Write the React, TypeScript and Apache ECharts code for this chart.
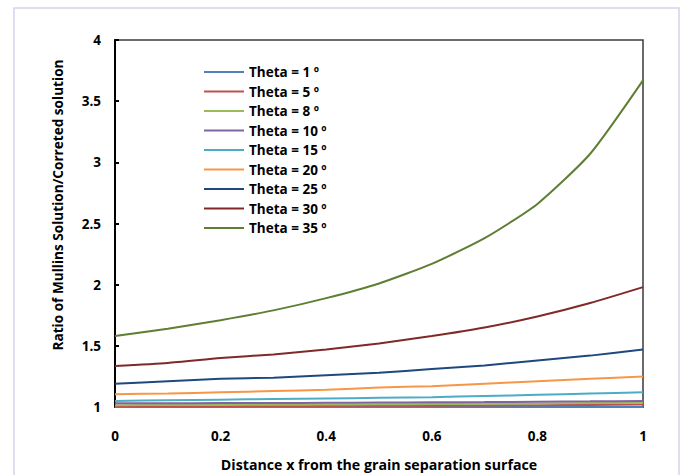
import React, { useEffect, useRef } from "react";
import * as echarts from "echarts";

const xValues = [0, 0.1, 0.2, 0.3, 0.4, 0.5, 0.6, 0.7, 0.8, 0.9, 1];
const seriesNames = [
  "Theta = 1 º",
  "Theta = 5 º",
  "Theta = 8 º",
  "Theta = 10 º",
  "Theta = 15 º",
  "Theta = 20 º",
  "Theta = 25 º",
  "Theta = 30 º",
  "Theta = 35 º",
];
const seriesColors = [
  "#4F81BD",
  "#C0504D",
  "#9BBB59",
  "#8064A2",
  "#4BACC6",
  "#F79646",
  "#1F497D",
  "#7F2A27",
  "#5E7E33",
];
const theta1 = [1.0, 1.0, 1.0, 1.0, 1.0, 1.0, 1.0, 1.0, 1.0, 1.0, 1.0];
const theta5 = [1.005, 1.006, 1.007, 1.008, 1.009, 1.01, 1.011, 1.013, 1.015, 1.017, 1.02];
const theta8 = [1.015, 1.016, 1.017, 1.018, 1.02, 1.022, 1.024, 1.026, 1.029, 1.032, 1.035];
const theta10 = [1.03, 1.031, 1.032, 1.033, 1.034, 1.036, 1.038, 1.04, 1.043, 1.046, 1.05];
const theta15 = [1.05, 1.055, 1.06, 1.065, 1.07, 1.075, 1.08, 1.09, 1.1, 1.11, 1.12];
const theta20 = [1.105, 1.11, 1.12, 1.13, 1.14, 1.16, 1.17, 1.19, 1.21, 1.23, 1.25];
const theta25 = [1.19, 1.21, 1.23, 1.24, 1.26, 1.28, 1.31, 1.34, 1.38, 1.42, 1.47];
const theta30 = [1.335, 1.36, 1.4, 1.43, 1.47, 1.52, 1.58, 1.65, 1.74, 1.85, 1.98];
const theta35 = [1.58, 1.64, 1.71, 1.79, 1.89, 2.01, 2.17, 2.38, 2.66, 3.07, 3.67];
const allSeries = [theta1, theta5, theta8, theta10, theta15, theta20, theta25, theta30, theta35];

const xTickLabels = ["0", "0.2", "0.4", "0.6", "0.8", "1"];
const xTitle = "Distance x from the grain separation surface";
const yTitle = "Ratio of Mullins Solution/Correted solution";

const FONT = "'Open Sans', 'Noto Sans', sans-serif";

export default function App() {
  const ref = useRef<HTMLDivElement>(null);
  useEffect(() => {
    if (!ref.current) return;
    const chart = echarts.init(ref.current, undefined, { renderer: "svg" });
    chart.setOption({
      animation: false,
      backgroundColor: "#ffffff",
      grid: {
        left: 115,
        right: 38,
        top: 40,
        bottom: 68,
        show: true,
        borderColor: "#3a3a3a",
        borderWidth: 1.5,
        backgroundColor: "transparent",
      },
      legend: {
        orient: "vertical",
        left: 199,
        top: 60,
        itemWidth: 40,
        itemHeight: 14,
        itemGap: 5.5,
        icon: "path://M0,0 L40,0 L40,2 L0,2 Z",
        symbolKeepAspect: true,
        data: seriesNames,
        textStyle: { fontFamily: FONT, fontWeight: "bold", fontSize: 13.5, color: "#000" },
      },
      xAxis: {
        type: "value",
        min: 0,
        max: 1,
        interval: 0.2,
        axisLine: { show: true, lineStyle: { color: "#3a3a3a", width: 1.5 } },
        axisTick: { show: false },
        splitLine: { show: false },
        axisLabel: {
          margin: 22,
          fontFamily: FONT,
          fontWeight: "bold",
          fontSize: 13.5,
          color: "#000",
          formatter: (v: number) => {
            const i = Math.round(v / 0.2);
            return xTickLabels[i] ?? String(v);
          },
        },
      },
      yAxis: {
        type: "value",
        min: 1,
        max: 4,
        interval: 0.5,
        axisLine: { show: true, lineStyle: { color: "#000", width: 2 } },
        axisTick: { show: true, inside: true, length: 4, lineStyle: { color: "#000", width: 2 } },
        splitLine: { show: false },
        axisLabel: {
          margin: 14,
          fontFamily: FONT,
          fontWeight: "bold",
          fontSize: 13.5,
          color: "#000",
          formatter: (v: number) => String(v),
        },
      },
      graphic: [
        {
          type: "rect",
          shape: { x: 14, y: 8, width: 665, height: 480 },
          style: { fill: "none", stroke: "#d4d4ec", lineWidth: 1.5 },
          silent: true,
          z: -10,
        },
        {
          type: "text",
          x: 57,
          y: 205,
          rotation: Math.PI / 2,
          style: {
            text: yTitle,
            fontFamily: FONT,
            fontWeight: "bold",
            fontSize: 13.6,
            fill: "#000",
            align: "center",
            verticalAlign: "middle",
          },
        },
        {
          type: "text",
          x: 379,
          y: 464,
          style: {
            text: xTitle,
            fontFamily: FONT,
            fontWeight: "bold",
            fontSize: 14.2,
            fill: "#000",
            align: "center",
            verticalAlign: "middle",
          },
        },
      ],
      series: allSeries.map((vals, i) => ({
        name: seriesNames[i],
        type: "line",
        smooth: 0.2,
        symbol: "none",
        showSymbol: false,
        color: seriesColors[i],
        lineStyle: { width: 2, color: seriesColors[i] },
        data: vals.map((v, j) => [xValues[j], v]),
      })),
    });
    return () => chart.dispose();
  }, []);
  return (
    <div
      ref={ref}
      style={{ position: "fixed", left: 0, top: 0, width: 681, height: 475 }}
    />
  );
}
